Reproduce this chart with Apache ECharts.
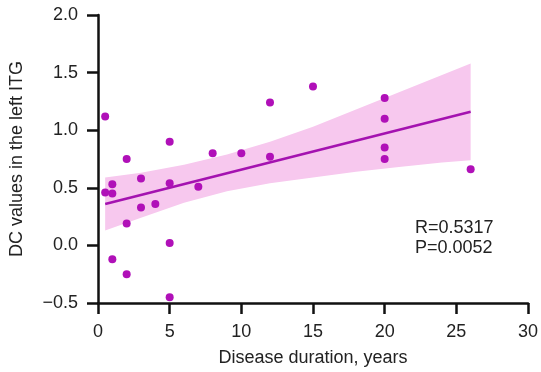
<!DOCTYPE html>
<html>
<head>
<meta charset="utf-8">
<script src="https://cdn.jsdelivr.net/npm/echarts@6/dist/echarts.min.js"></script>
<style>
  html, body { margin: 0; padding: 0; background: #fff; }
  #chart { width: 541px; height: 372px; }
</style>
</head>
<body>
<div id="chart"></div>
<script>
// scatter points: disease duration (years) vs DC value
var durX = [0.5, 0.5, 1, 1, 1, 2, 2, 2, 3, 3, 4, 5, 5, 5, 5, 7, 8, 10, 12, 12, 15, 20, 20, 20, 20, 26];
var dcY = [1.12, 0.46, 0.53, 0.45, -0.12, 0.75, 0.19, -0.25, 0.58, 0.33, 0.36, 0.90, 0.54, 0.02, -0.45, 0.51, 0.80, 0.80, 1.24, 0.77, 1.38, 1.28, 1.10, 0.85, 0.75, 0.66];

// fitted line end points
var fitX = [0.5, 26];
var fitY = [0.36, 1.16];

// confidence band
var bandX = [0.5, 3, 6, 9, 12, 15, 18, 21, 24, 26];
var bandLow = [0.13, 0.24, 0.37, 0.47, 0.54, 0.59, 0.64, 0.68, 0.72, 0.74];
var bandHigh = [0.59, 0.63, 0.70, 0.79, 0.90, 1.03, 1.18, 1.33, 1.48, 1.58];

var statsText = ['R=0.5317', 'P=0.0052'];

var FONT = 'Liberation Sans, Arial, sans-serif';
var chart = echarts.init(document.getElementById('chart'));

var pts = durX.map(function (x, i) { return [x, dcY[i]]; });
var fit = fitX.map(function (x, i) { return [x, fitY[i]]; });
var band = bandX.map(function (x, i) { return [x, bandLow[i], bandHigh[i]]; });

// whole band drawn as one polygon: upper edge left->right, lower edge right->left
function renderBand(params, api) {
    if (params.dataIndex !== 0) return;
    var upper = band.map(function (d) { return api.coord([d[0], d[2]]); });
    var lower = band.map(function (d) { return api.coord([d[0], d[1]]); }).reverse();
    return {
        type: 'polygon',
        shape: { points: upper.concat(lower) },
        style: { fill: '#f7c8ee', stroke: 'none' },
        silent: true
    };
}

var option = {
    animation: false,
    grid: { left: 97, right: 11, top: 15, bottom: 68 },
    xAxis: {
        type: 'value',
        min: 0, max: 30, interval: 5,
        name: 'Disease duration, years',
        nameLocation: 'middle',
        nameGap: 46,
        nameTextStyle: { fontFamily: FONT, fontSize: 18, color: '#222' },
        axisLine: { onZero: false, lineStyle: { color: '#111', width: 2.5 } },
        axisTick: { length: 11, lineStyle: { color: '#111', width: 2.5 } },
        axisLabel: { margin: 20, fontFamily: FONT, fontSize: 18, color: '#222' },
        splitLine: { show: false }
    },
    yAxis: {
        type: 'value',
        min: -0.5, max: 2.0, interval: 0.5,
        name: 'DC values in the left ITG',
        nameLocation: 'middle',
        nameGap: 72,
        nameTextStyle: { fontFamily: FONT, fontSize: 18, color: '#222' },
        axisLine: { show: true, onZero: false, lineStyle: { color: '#111', width: 2.5 } },
        axisTick: { show: true, length: 11, lineStyle: { color: '#111', width: 2.5 } },
        axisLabel: {
            margin: 20, fontFamily: FONT, fontSize: 18, color: '#222',
            formatter: function (v) { return v.toFixed(1).replace('-', '\u2212'); }
        },
        splitLine: { show: false }
    },
    graphic: [{
        type: 'text',
        left: 415, top: 218,
        style: {
            text: statsText.join('\n'),
            font: '18px ' + FONT,
            lineHeight: 20,
            fill: '#222'
        }
    }],
    series: [
        {
            type: 'custom',
            data: band,
            renderItem: renderBand,
            silent: true,
            z: 1
        },
        {
            type: 'line',
            data: fit,
            symbol: 'none',
            lineStyle: { color: '#a412b0', width: 2.5 },
            z: 2
        },
        {
            type: 'scatter',
            data: pts,
            symbolSize: 8,
            itemStyle: { color: '#b010b8', opacity: 1 },
            z: 3
        }
    ]
};

chart.setOption(option);
</script>
</body>
</html>
